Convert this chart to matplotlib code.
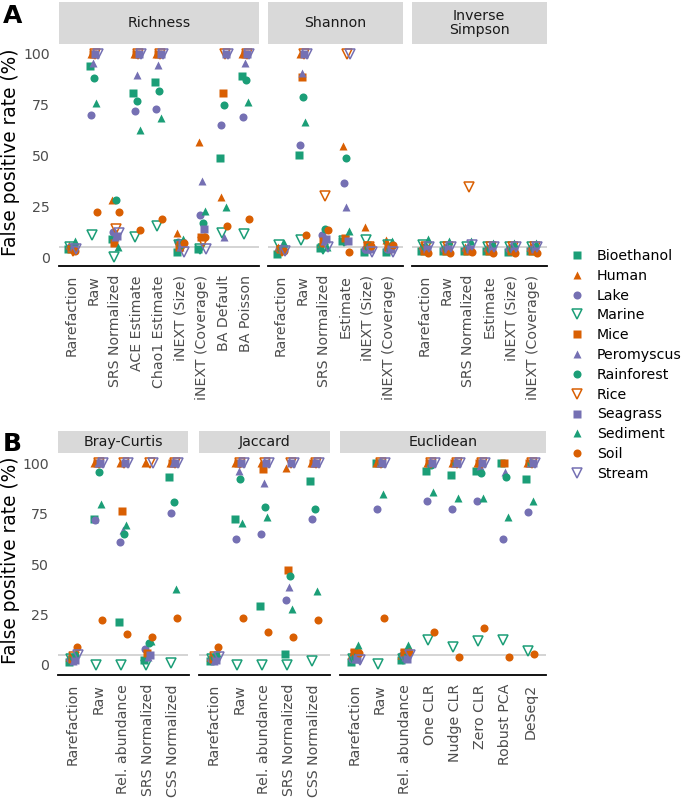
import matplotlib.pyplot as plt
import numpy as np
from matplotlib.lines import Line2D

W, H = 683, 798
fig = plt.figure(figsize=(W / 100, H / 100), dpi=100)

# datasets (legend order)
datasets = ['Bioethanol', 'Human', 'Lake', 'Marine', 'Mice', 'Peromyscus',
            'Rainforest', 'Rice', 'Seagrass', 'Sediment', 'Soil', 'Stream']

# --- panel A: alpha diversity ---
richness_methods = ['Rarefaction', 'Raw', 'SRS Normalized', 'ACE Estimate', 'Chao1 Estimate',
                    'iNEXT (Size)', 'iNEXT (Coverage)', 'BA Default', 'BA Poisson']
richness = [
    [4, 94, 8.7, 81, 86, 2.6, 3.8, 49, 89],
    [6, 100, 28, 100, 100, 12, 56.5, 29.7, 100],
    [5, 70, 12.5, 72, 73, 7.5, 20.7, 65, 69],
    [5, 11, 0.2, 10, 15.3, 6, 4, 11.7, 11.2],
    [4, 100, 6.7, 100, 100, 5, 9.7, 81, 100],
    [5, 95.4, 10, 89.7, 94.6, 5, 37.6, 10, 95.4],
    [5, 88, 28, 77, 82, 6, 16.6, 74.9, 87],
    [3, 100, 14, 100, 100, 5, 7.5, 100, 100],
    [5, 100, 10.5, 100, 100, 7, 13.6, 100, 100],
    [8, 75.7, 5, 62.6, 68.6, 8.7, 22.8, 24.8, 76.5],
    [3, 22.3, 22, 13.3, 18.6, 7, 9.7, 15.4, 18.6],
    [4, 100, 12, 100, 100, 2.3, 3.9, 100, 100],
]

shannon_methods = ['Rarefaction', 'Raw', 'SRS Normalized', 'Estimate',
                   'iNEXT (Size)', 'iNEXT (Coverage)']
shannon = [
    [1.5, 50.2, 4.4, 7.7, 2.6, 2.6],
    [5, 100, 7, 54.7, 15, 8.4],
    [4, 55, 10.8, 36.3, 4, 4],
    [6, 8.4, 4, 8, 8.5, 6],
    [4, 88.8, 8, 9.5, 6, 5],
    [5, 90.5, 7.7, 24.8, 4, 5],
    [4, 79, 13.6, 49, 5, 4],
    [3, 100, 30, 100, 5, 4],
    [4, 100, 8.9, 8, 4, 4],
    [7, 66.7, 5, 12.9, 6, 7.7],
    [3, 10.8, 13.3, 2.6, 5.6, 5.9],
    [3, 100, 5, 100, 2.3, 2.5],
]

invsimpson_methods = shannon_methods
invsimpson = [
    [3, 3, 3, 3, 2.5, 3],
    [6, 5, 5, 5, 5, 5],
    [4, 4, 4, 4, 4, 4],
    [6, 5, 5, 5, 5, 5],
    [3, 3, 3, 3, 3, 3],
    [6, 6, 6, 6, 6, 6],
    [5, 4, 4, 4, 4, 4],
    [5, 5, 34.6, 5, 5, 5],
    [4, 4, 4, 4, 4, 4],
    [9, 8, 8, 7, 7, 7],
    [2, 2, 2.5, 2, 2, 2],
    [5, 5, 6, 5, 5, 5],
]

# --- panel B: beta diversity ---
bray_methods = ['Rarefaction', 'Raw', 'Rel. abundance', 'SRS Normalized', 'CSS Normalized']
bray = [
    [1.6, 72.3, 21.1, 2.5, 92.9],
    [4, 100, 100, 100, 100],
    [3, 72, 61, 7.8, 75.1],
    [3, 0, 0, 0, 1],
    [3, 100, 76.2, 6, 100],
    [2, 100, 67, 4, 100],
    [4, 95.7, 64.9, 10.7, 80.9],
    [4, 100, 100, 100, 100],
    [2.5, 100, 100, 5, 100],
    [6, 79.7, 69.3, 12, 37.5],
    [9, 22.3, 15.2, 14, 23.1],
    [5, 100, 100, 100, 100],
]

jaccard_methods = bray_methods
jaccard = [
    [2, 72.1, 29.4, 5.4, 91.1],
    [4, 100, 100, 97.4, 100],
    [3, 62.2, 65, 32.2, 72.1],
    [3, 0, 0, 0, 2],
    [3, 100, 96.9, 47, 100],
    [2, 96.2, 90.3, 38.8, 100],
    [4, 91.9, 78, 44, 77.1],
    [4, 100, 100, 100, 100],
    [2.5, 100, 100, 100, 100],
    [6, 70.4, 73.1, 27.6, 36.6],
    [9, 23.1, 16.2, 14, 22.3],
    [4, 100, 100, 100, 100],
]

euclid_methods = ['Rarefaction', 'Raw', 'Rel. abundance', 'One CLR', 'Nudge CLR',
                  'Zero CLR', 'Robust PCA', 'DeSeq2']
nan = np.nan
euclid = [
    [1.6, 100, 2.5, 96, 94.1, 96.2, 100, 91.9],
    [5, 100, 5, 100, 100, 100, nan, 100],
    [3, 77.1, 5, 81.2, 77.1, 81.2, 62.2, 75.9],
    [3, 0.5, 3, 12.4, 9.1, 11.6, 12.4, 7.1],
    [6.6, 100, 6.5, 100, 100, 100, 100, 100],
    [3, 100, 4, 100, 100, 98.5, 95.7, 100],
    [4, 100, 4, 99, 100, 94.9, 93.2, 100],
    [5, 100, 5, 100, 100, 100, nan, 100],
    [3, 100, 3, 100, 100, 100, nan, 100],
    [9.9, 84.7, 9.9, 85.5, 82.5, 82.5, 73.4, 81.4],
    [6.1, 23.1, 6.2, 16.2, 4.1, 18.2, 4.1, 5.4],
    [2.5, 100, 5, 100, 100, 100, nan, 100],
]

# styles
pal = ['#1B9E77', '#D95F02', '#7570B3']
shapes = ['s', '^', 'o', 'v']
msize = {'s': 5.2, '^': 6.3, 'o': 5.8, 'v': 6.8}
offsets = np.linspace(-0.18, 0.18, len(datasets))
FS = 10.2
grey30 = '#4D4D4D'


def rect(x0, y0, x1, y1):
    return [x0 / W, 1 - y1 / H, (x1 - x0) / W, (y1 - y0) / H]


def style_for(k):
    m = shapes[k % 4]
    c = pal[k % 3]
    kw = dict(marker=m, ls='none', ms=msize[m], color=c)
    if m == 'v':
        kw.update(mfc='none', mec=c, mew=1.1)
    else:
        kw.update(mec='none')
    return kw


def facet(x0, x1, y_top, y_bot, strip_top, methods, values, title, ylim, first):
    ax = fig.add_axes(rect(x0, y_top, x1, y_bot))
    n = len(methods)
    ax.axhline(5, color='#D4D4D4', lw=1.4, zorder=1)
    for k in range(len(datasets)):
        ax.plot(np.arange(n) + offsets[k], values[k], zorder=3, **style_for(k))
    ax.set_xlim(-0.6, n - 0.4)
    ax.set_ylim(*ylim)
    for s in ['top', 'right', 'left']:
        ax.spines[s].set_visible(False)
    ax.spines['bottom'].set_color('black')
    ax.spines['bottom'].set_linewidth(1.3)
    ax.set_xticks(np.arange(n))
    ax.set_xticklabels(methods, rotation=90, fontsize=FS, color=grey30)
    ax.set_yticks([0, 25, 50, 75, 100])
    ax.tick_params(length=0, pad=6.5)
    if first:
        ax.set_yticklabels(['0', '25', '50', '75', '100'], fontsize=FS, color=grey30)
    else:
        ax.set_yticklabels([])
    ax.patch.set_visible(False)
    # facet strip
    st = fig.add_axes(rect(x0, strip_top, x1, y_top))
    st.set_facecolor('#D9D9D9')
    st.set_xticks([])
    st.set_yticks([])
    for s in st.spines.values():
        s.set_visible(False)
    st.text(0.5, 0.5, title, ha='center', va='center', fontsize=FS, color='#1A1A1A',
            linespacing=1.0, transform=st.transAxes)
    return ax


# panel A
facet(59, 258.6, 44, 266, 2, richness_methods, richness, 'Richness', (-4.4, 104.9), True)
facet(268, 402.5, 44, 266, 2, shannon_methods, shannon, 'Shannon', (-4.4, 104.9), False)
facet(412, 546.5, 44, 266, 2, invsimpson_methods, invsimpson, 'Inverse\nSimpson', (-4.4, 104.9), False)

# panel B
facet(58, 188.5, 453, 675, 431, bray_methods, bray, 'Bray-Curtis', (-5, 105), True)
facet(199, 329.5, 453, 675, 431, jaccard_methods, jaccard, 'Jaccard', (-5, 105), False)
facet(340, 545.5, 453, 675, 431, euclid_methods, euclid, 'Euclidean', (-5, 105), False)

# y axis titles
for yc in [152, 560]:
    fig.text(11 / W, 1 - yc / H, 'False positive rate (%)', rotation=90, fontsize=13.4,
             ha='center', va='center')

fig.text(3 / W, 1 - 16 / H, 'A', fontsize=18, fontweight='bold', va='center', ha='left')
fig.text(3 / W, 1 - 444 / H, 'B', fontsize=18, fontweight='bold', va='center', ha='left')

# legend
handles = [Line2D([], [], **style_for(k)) for k in range(len(datasets))]
fig.legend(handles, datasets, loc='upper left', bbox_to_anchor=(570 / W, 1 - 249 / H),
           frameon=False, fontsize=FS, handlelength=1.0, handletextpad=0.9,
           labelspacing=0.41, borderpad=0, borderaxespad=0)

fig.savefig('out.png', dpi=100)
